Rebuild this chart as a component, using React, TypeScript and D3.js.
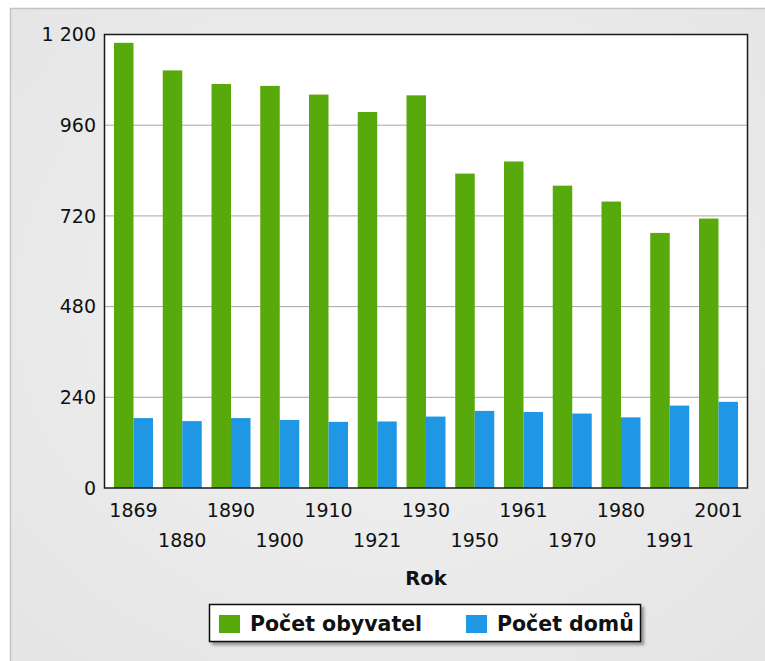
import React from "react";
import * as d3 from "d3";

const years = ["1869", "1880", "1890", "1900", "1910", "1921", "1930", "1950", "1961", "1970", "1980", "1991", "2001"];
const obyvatel = [1178, 1105, 1069, 1064, 1041, 995, 1039, 832, 864, 800, 758, 675, 713];
const domu = [185, 177, 185, 180, 175, 176, 189, 204, 201, 197, 187, 218, 228];
const yTicks = [0, 240, 480, 720, 960, 1200];
const seriesNames = ["Počet obyvatel", "Počet domů"];
const seriesColors = ["#58a90b", "#1f97e4"];
const xTitle = "Rok";

const W = 765;
const H = 661;
const L = 104.5, R = 747.5, T = 34.5, B = 488;

const fmt = d3.formatLocale({ decimal: ",", thousands: " ", grouping: [3], currency: ["", ""] }).format(",");

export default function App() {
  const x = d3.scaleBand<string>().domain(years).range([L, R]).paddingInner(0.2).paddingOuter(0.195);
  const x1 = d3.scaleBand<number>().domain([0, 1]).range([0, x.bandwidth()]);
  const y = d3.scaleLinear().domain([0, 1200]).range([B, T]);
  const font = "'DejaVu Sans', Verdana, sans-serif";
  const series = [obyvatel, domu];

  return (
    <svg width={W} height={H} style={{ position: "absolute", left: 0, top: 0 }} fontFamily={font}>
      <defs>
        <radialGradient id="bg" cx="50%" cy="45%" r="70%">
          <stop offset="0%" stopColor="#f2f2f2" />
          <stop offset="100%" stopColor="#e5e5e5" />
        </radialGradient>
        <filter id="sh" x="-10%" y="-30%" width="130%" height="180%">
          <feDropShadow dx="3" dy="3" stdDeviation="1.5" floodColor="#000" floodOpacity="0.35" />
        </filter>
      </defs>
      <rect x={0} y={0} width={W} height={H} fill="#ffffff" />
      <rect x={10.5} y={8.5} width={W} height={H} fill="url(#bg)" stroke="#c4c4c4" strokeWidth={1.5} />
      <rect x={L} y={T} width={R - L} height={B - T} fill="#ffffff" />
      {yTicks.filter((t) => t > 0 && t < 1200).map((t) => (
        <line key={t} x1={L} x2={R} y1={y(t)} y2={y(t)} stroke="#a6a6a6" strokeWidth={1} />
      ))}
      {series.map((vals, si) =>
        vals.map((v, i) => (
          <rect
            key={`${si}-${i}`}
            x={(x(years[i]) as number) + (x1(si) as number)}
            y={y(v)}
            width={x1.bandwidth()}
            height={B - y(v)}
            fill={seriesColors[si]}
          />
        ))
      )}
      <rect x={L} y={T} width={R - L} height={B - T} fill="none" stroke="#1a1a1a" strokeWidth={1.5} />
      {yTicks.map((t) => (
        <text key={t} x={96} y={y(t)} dy="0.35em" textAnchor="end" fontSize={19} fill="#111">
          {fmt(t)}
        </text>
      ))}
      {years.map((yr, i) => (
        <text
          key={yr}
          x={(x(yr) as number) + x.bandwidth() / 2}
          y={i % 2 === 0 ? 510 : 540}
          dy="0.35em"
          textAnchor="middle"
          fontSize={19}
          fill="#111"
        >
          {yr}
        </text>
      ))}
      <text x={(L + R) / 2} y={578} dy="0.35em" textAnchor="middle" fontSize={19.5} fontWeight="bold" fill="#111">
        {xTitle}
      </text>
      <g>
        <rect x={209.5} y={604.5} width={431} height={37} fill="#ffffff" stroke="#111" strokeWidth={1.5} filter="url(#sh)" />
        {seriesNames.map((name, si) => {
          const sx = si === 0 ? 219 : 466;
          return (
            <g key={name}>
              <rect x={sx} y={615} width={21} height={18} fill={seriesColors[si]} />
              <text x={sx + 31} y={624} dy="0.35em" fontSize={20.5} fontWeight="bold" fill="#111">
                {name}
              </text>
            </g>
          );
        })}
      </g>
    </svg>
  );
}
